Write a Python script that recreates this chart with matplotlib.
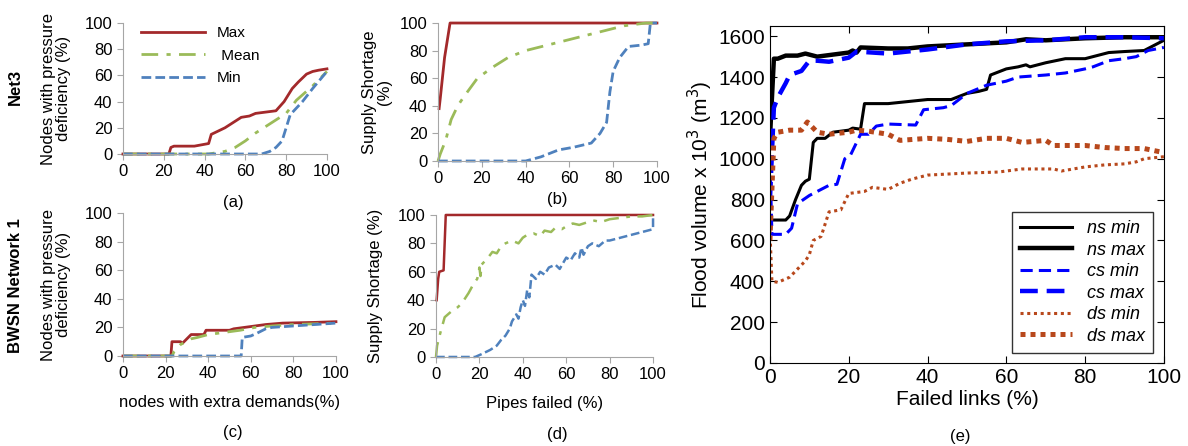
import matplotlib.pyplot as plt

plt.rcParams["font.family"] = ["Liberation Sans", "DejaVu Sans"]

RED = "#A3292B"
GREEN = "#9BBB59"
BLUE = "#4F81BD"
BROWN = "#B8481C"

# ---- (a) Net3, nodes with extra demands ----
a_max_x = [0, 22.5, 23.5, 25, 35, 42, 43.3, 46, 50, 52, 55, 58, 62, 65, 70, 75, 79, 83, 86, 90, 93, 96, 100]
a_max_y = [0, 0, 5, 6, 6, 8, 15, 17, 20, 22, 25, 28, 29, 31, 32, 33, 40, 50, 55, 61, 63, 64, 65]
a_mean_x = [0, 42, 50, 55, 60, 65, 70, 75, 80, 85, 93, 100]
a_mean_y = [0, 0, 2, 5, 10, 16, 21, 26, 31, 41, 52, 63]
a_min_x = [0, 68, 72, 75, 78, 80, 82, 85, 88, 93, 100]
a_min_y = [0, 0, 2, 5, 10, 20, 30, 35, 40, 50, 63]

# ---- (b) Net3, pipes failed ----
b_max_x = [0.5, 1, 2, 3, 3.5, 4.5, 5.5, 100]
b_max_y = [38, 45, 60, 75, 80, 90, 100, 100]
b_mean_x = [0, 1, 3.5, 6, 9, 12, 18, 25, 32, 40, 50, 60, 70, 80, 85, 95, 100]
b_mean_y = [0, 5, 15, 30, 40, 47, 60, 68, 75, 80, 84, 88, 92, 96, 98, 100, 100]
b_min_x = [0, 40, 47, 55, 62, 70, 74, 77, 78.5, 80, 83, 87, 93, 96, 97, 100]
b_min_y = [0, 0, 3, 8, 10, 13, 20, 28, 50, 65, 75, 83, 84, 85, 100, 100]

# ---- (c) BWSN Network 1, nodes with extra demands ----
c_max_x = [0, 22.5, 23, 27, 28, 30, 32, 38, 39, 50, 52, 57, 62, 67, 75, 90, 100]
c_max_y = [0, 0, 10, 10, 9, 12, 15, 15, 18, 18, 19, 20, 21, 22, 23, 23.5, 24]
c_mean_x = [0, 23, 24, 27, 32, 35, 40, 50, 55, 62, 70, 80, 100]
c_mean_y = [0, 0, 3, 8, 12, 13, 15, 17, 18, 20, 21, 22, 23]
c_min_x = [0, 55.5, 56, 60, 63, 67, 70, 80, 90, 100]
c_min_y = [0, 0, 13, 14, 16, 19, 20, 21, 22, 23]

# ---- (d) BWSN Network 1, pipes failed ----
d_max_x = [0.3, 1, 1.5, 3.5, 4.5, 100]
d_max_y = [40, 55, 60, 61, 100, 100]
d_mean_x = [0, 0.5, 2, 4, 7, 10, 12, 15, 17.5, 19, 20, 20.5, 21, 24, 26, 28, 30, 32, 35, 38, 40,
            42, 45, 48, 50, 53, 55, 58, 60, 63, 66, 70, 73, 76, 80, 85, 90, 95, 100]
d_mean_y = [0, 8, 17, 28, 32, 35, 38, 45, 52, 55, 63, 57, 65, 70, 74, 73, 78, 80, 82, 80, 84,
            86, 87, 85, 89, 88, 91, 90, 92, 94, 93, 95, 96, 95, 97, 98, 99, 99, 100]
d_min_x = [0, 18, 21, 25, 28, 30, 32, 34, 35, 37, 38, 39, 40, 41, 42, 43, 44, 46, 48, 50, 52, 55,
           57, 60, 62, 64, 66, 67, 68, 70, 72, 75, 78, 80, 85, 90, 95, 100, 100]
d_min_y = [0, 0, 2, 5, 8, 12, 15, 20, 25, 30, 27, 35, 40, 36, 47, 42, 58, 55, 60, 58, 63, 65,
           62, 70, 68, 73, 70, 77, 72, 78, 80, 78, 82, 82, 84, 86, 88, 90, 100]

# ---- (e) flood volume ----
ns_min_x = [0, 4, 5, 6.5, 8, 9, 10, 11, 12, 14, 16, 20, 21, 23, 24, 30, 35, 40, 46, 50, 53, 55,
            56, 60, 63, 65, 66, 70, 75, 80, 82, 86, 90, 95, 98, 100]
ns_min_y = [700, 700, 720, 800, 870, 890, 900, 1080, 1100, 1100, 1130, 1140, 1150, 1145, 1270,
            1270, 1280, 1290, 1290, 1320, 1330, 1340, 1410, 1440, 1450, 1460, 1450, 1470, 1490,
            1490, 1500, 1520, 1525, 1530, 1560, 1580]
ns_max_x = [0, 1, 2, 4, 7, 9, 12, 16, 20, 21, 22, 23, 30, 35, 40, 50, 60, 65, 70, 80, 90, 100]
ns_max_y = [1100, 1490, 1490, 1505, 1505, 1515, 1500, 1510, 1520, 1530, 1520, 1545, 1540, 1540,
            1550, 1560, 1570, 1585, 1580, 1590, 1595, 1595]
cs_min_x = [0, 0.5, 4, 5.5, 7, 10, 13, 15, 17, 19, 20.5, 22, 23, 25, 27, 30, 37, 39, 44, 46, 50,
            55, 60, 63, 70, 75, 80, 82, 86, 90, 93, 96, 100]
cs_min_y = [1000, 630, 630, 660, 780, 820, 850, 870, 875, 1000, 1020, 1080, 1120, 1120, 1160,
            1170, 1165, 1240, 1250, 1260, 1320, 1360, 1380, 1400, 1410, 1420, 1440, 1450, 1480,
            1490, 1500, 1530, 1545]
cs_max_x = [0, 1, 2, 4, 5, 8, 10, 12, 15, 20, 22, 30, 40, 50, 60, 70, 80, 90, 100]
cs_max_y = [800, 1250, 1300, 1370, 1410, 1430, 1480, 1480, 1475, 1495, 1525, 1515, 1535, 1560,
            1575, 1580, 1595, 1595, 1590]
ds_min_x = [0, 0.5, 2, 5, 7, 9, 10, 11, 13, 14, 15, 18, 20, 24, 26, 30, 33, 36, 40, 50, 58, 64,
            72, 74, 80, 85, 90, 93, 95, 100]
ds_min_y = [650, 400, 395, 420, 460, 500, 530, 600, 620, 680, 740, 750, 830, 840, 860, 850, 880,
            900, 920, 930, 935, 950, 950, 940, 960, 970, 975, 985, 1000, 1010]
ds_max_x = [0, 1, 2, 5, 8, 9.5, 12, 15, 20, 22, 25, 30, 33, 40, 45, 50, 55, 60, 64, 70, 72, 80,
            85, 90, 95, 100]
ds_max_y = [600, 1100, 1130, 1140, 1140, 1180, 1130, 1120, 1130, 1140, 1135, 1120, 1090, 1100,
            1095, 1085, 1100, 1100, 1080, 1090, 1065, 1065, 1055, 1050, 1050, 1030]


def excel_axes(fig, rect, xlabel=None):
    ax = fig.add_axes(rect)
    ax.set_xlim(0, 100)
    ax.set_ylim(0, 100)
    ax.set_xticks(range(0, 101, 20))
    ax.set_yticks(range(0, 101, 20))
    for side in ["top", "right"]:
        ax.spines[side].set_visible(False)
    for side in ["left", "bottom"]:
        ax.spines[side].set_color("#A6A6A6")
    ax.tick_params(colors="#A6A6A6", labelcolor="black", labelsize=12, length=4, direction="out")
    if xlabel:
        ax.set_xlabel(xlabel, fontsize=12, labelpad=10)
    return ax


def draw_three(ax, mx, my, ex, ey, nx, ny, lw=2.0):
    ax.plot(mx, my, color=RED, lw=lw, label="Max", clip_on=False)
    ax.plot(ex, ey, color=GREEN, lw=lw, ls=(0, (6, 3, 1.5, 3)), label=" Mean", clip_on=False)
    ax.plot(nx, ny, color=BLUE, lw=lw, ls=(0, (3.5, 1.5)), label="Min", clip_on=False)


fig = plt.figure(figsize=(11.88, 4.46), dpi=100)

ax_a = excel_axes(fig, [0.1035, 0.6547, 0.1717, 0.2937])
draw_three(ax_a, a_max_x, a_max_y, a_mean_x, a_mean_y, a_min_x, a_min_y)
ax_a.legend(loc="upper left", bbox_to_anchor=(0.02, 1.08), frameon=False, fontsize=11,
            handlelength=4.2, labelspacing=0.55, handletextpad=0.8)
ax_a.set_ylabel("Nodes with pressure\ndeficiency (%)", fontsize=12, linespacing=1.0, labelpad=10)
fig.text(0.013, 0.805, "Net3", rotation=90, fontsize=12, fontweight="bold", va="center", ha="center")

ax_b = excel_axes(fig, [0.3687, 0.639, 0.1843, 0.3094])
draw_three(ax_b, b_max_x, b_max_y, b_mean_x, b_mean_y, b_min_x, b_min_y)
ax_b.set_ylabel("Supply Shortage\n(%)", fontsize=12, linespacing=1.0, labelpad=6)

ax_c = excel_axes(fig, [0.1035, 0.2018, 0.1793, 0.3206], "nodes with extra demands(%)")
draw_three(ax_c, c_max_x, c_max_y, c_mean_x, c_mean_y, c_min_x, c_min_y)
ax_c.set_ylabel("Nodes with pressure\ndeficiency (%)", fontsize=12, linespacing=1.0, labelpad=10)
fig.text(0.013, 0.36, "BWSN Network 1", rotation=90, fontsize=12, fontweight="bold",
         va="center", ha="center")

ax_d = excel_axes(fig, [0.367, 0.1996, 0.1827, 0.3184], "Pipes failed (%)")
draw_three(ax_d, d_max_x, d_max_y, d_mean_x, d_mean_y, d_min_x, d_min_y, lw=1.8)
ax_d.set_ylabel("Supply Shortage (%)", fontsize=12, labelpad=11)

fig.text(233 / 1188, 1 - 202 / 446, "(a)", fontsize=12, ha="center", va="center")
fig.text(557 / 1188, 1 - 200 / 446, "(b)", fontsize=12, ha="center", va="center")
fig.text(233 / 1188, 1 - 433 / 446, "(c)", fontsize=12, ha="center", va="center")
fig.text(557 / 1188, 1 - 435 / 446, "(d)", fontsize=12, ha="center", va="center")
fig.text(960 / 1188, 1 - 436 / 446, "(e)", fontsize=12, ha="center", va="center")

# ---- (e) ----
ax_e = fig.add_axes([0.6481, 0.1861, 0.3316, 0.7556])
ax_e.plot(ns_min_x, ns_min_y, color="black", lw=2.2, label="ns min")
ax_e.plot(ns_max_x, ns_max_y, color="black", lw=3.2, label="ns max")
ax_e.plot(cs_min_x, cs_min_y, color="#0000FF", lw=2.2, ls=(0, (4, 2)), label="cs min")
ax_e.plot(cs_max_x, cs_max_y, color="#0000FF", lw=3.2, ls=(0, (4, 2)), label="cs max")
ax_e.plot(ds_min_x, ds_min_y, color=BROWN, lw=2.2, ls=(0, (1, 1.2)), label="ds min")
ax_e.plot(ds_max_x, ds_max_y, color=BROWN, lw=3.6, ls=(0, (1, 1)), label="ds max")
ax_e.set_xlim(0, 100)
ax_e.set_ylim(0, 1650)
ax_e.set_xticks(range(0, 101, 20))
ax_e.set_yticks(range(0, 1601, 200))
ax_e.tick_params(direction="in", top=True, right=True, labelsize=15, length=5)
ax_e.set_xlabel("Failed links (%)", fontsize=15, labelpad=2)
ax_e.set_ylabel("Flood volume x 10$^3$ (m$^3$)", fontsize=15, labelpad=2)
leg = ax_e.legend(loc="lower right", bbox_to_anchor=(0.972, 0.03), borderaxespad=0,
                  handlelength=2.9, labelspacing=0.25, borderpad=0.45, fancybox=False,
                  edgecolor="black", prop={"style": "italic", "size": 13})
leg.get_frame().set_linewidth(1.0)

fig.savefig("out.png", dpi=100)
